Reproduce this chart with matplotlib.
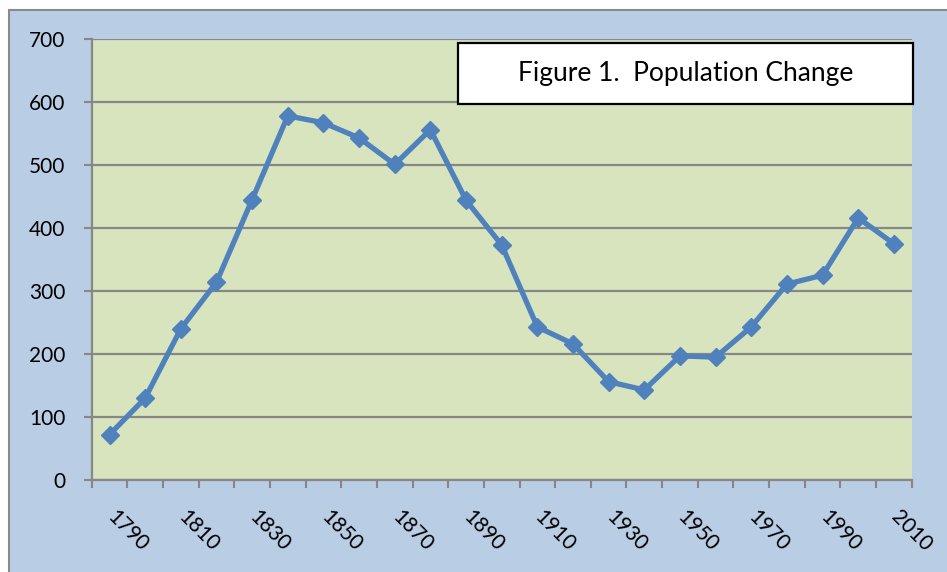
import matplotlib
matplotlib.use("Agg")
import matplotlib.pyplot as plt
import matplotlib.transforms as mtransforms
from matplotlib.patches import Rectangle

years = list(range(1790, 2011, 10))
values = [72, 130, 240, 314, 445, 578, 567, 543, 501, 556, 444, 373,
          243, 216, 156, 143, 197, 195, 243, 311, 325, 416, 375]
label_years = list(range(1790, 2011, 20))
y_ticks = [0, 100, 200, 300, 400, 500, 600, 700]
title_text = "Figure 1.  Population Change"

plt.rcParams['font.family'] = ['Lato', 'DejaVu Sans']

W, H = 947, 572
fig = plt.figure(figsize=(W / 100, H / 100), dpi=100)
fig.patch.set_facecolor('white')

# chart area background with grey border
bg = Rectangle((9 / W, -0.05), 1.2, 1 - 10 / H + 0.05,
               transform=fig.transFigure, facecolor='#B9CDE5',
               edgecolor='#8A8A8A', linewidth=1.5, zorder=-10)
fig.patches.append(bg)

left, right, top, bottom = 91.7, 911.7, 39, 480
ax = fig.add_axes([left / W, 1 - bottom / H, (right - left) / W, (bottom - top) / H])
ax.set_facecolor('#D7E4BD')

ax.plot(years, values, color='#4F81BD', linewidth=3.8, marker='D',
        markersize=9.5, markerfacecolor='#4F81BD', markeredgecolor='#4F81BD',
        zorder=3, clip_on=False)

ax.set_xlim(years[0] - 5, years[-1] + 5)
ax.set_ylim(0, 700)
ax.set_yticks(y_ticks)
ax.set_yticklabels([str(v) for v in y_ticks])
ax.yaxis.grid(True, color='#878787', linewidth=1.6)
ax.set_axisbelow(True)

ax.set_xticks(label_years)
ax.set_xticklabels([str(y) for y in label_years], rotation=-45,
                   ha='left', va='top')
ax.set_xticks([y - 5 for y in years] + [years[-1] + 5], minor=True)
ax.tick_params(axis='x', which='major', length=0, pad=19.5, labelsize=15)
ax.tick_params(axis='x', which='minor', length=6, width=1.5, color='#878787',
               direction='out')
ax.tick_params(axis='y', which='major', length=6, width=1.5, color='#878787',
               pad=13, labelsize=15)

offset = mtransforms.ScaledTranslation(-6.5 / 100, 0, fig.dpi_scale_trans)
for lbl in ax.get_xticklabels():
    lbl.set_transform(lbl.get_transform() + offset)

for s in ['top', 'right']:
    ax.spines[s].set_visible(False)
for s in ['left', 'bottom']:
    ax.spines[s].set_color('#878787')
    ax.spines[s].set_linewidth(1.6)

# title box
bx0, bx1, by0, by1 = 458, 913, 43, 104
box = Rectangle((bx0 / W, 1 - by1 / H), (bx1 - bx0) / W, (by1 - by0) / H,
                transform=fig.transFigure, facecolor='white',
                edgecolor='black', linewidth=1.6, zorder=5)
fig.patches.append(box)
fig.text((bx0 + bx1) / 2 / W, 1 - (by0 + by1) / 2 / H, title_text,
         ha='center', va='center', fontsize=19, zorder=6)

fig.savefig('out.png', dpi=100)
